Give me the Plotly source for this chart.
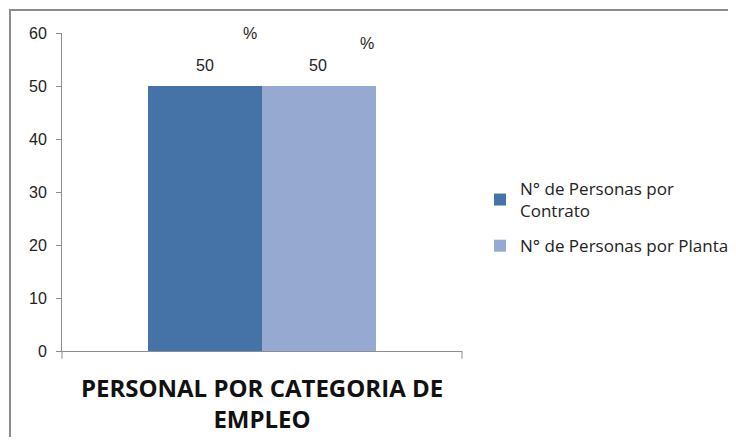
import plotly.graph_objects as go

categories = ["PERSONAL POR CATEGORIA DE<br>EMPLEO"]
series_names = ["N° de Personas por<br>Contrato", "N° de Personas por Planta"]
contrato = [50]
planta = [50]
colors = ["#4573A7", "#95A9D1"]

label_font = dict(size=16, color="#222", family="Liberation Sans")

fig = go.Figure(
    data=[
        go.Bar(name=series_names[0], x=categories, y=contrato, marker_color=colors[0],
               legendgroup="a"),
        go.Bar(name=series_names[1], x=categories, y=planta, marker_color=colors[1],
               legendgroup="b"),
    ]
)
fig.update_traces(marker_line_width=0)

# data labels ("50" with the stray "%" above, as in the original)
fig.add_annotation(x=categories[0], y=contrato[0], text=str(contrato[0]), showarrow=False,
                   xshift=-57, yshift=21, font=label_font)
fig.add_annotation(x=categories[0], y=planta[0], text=str(planta[0]), showarrow=False,
                   xshift=56, yshift=21, font=label_font)
fig.add_annotation(x=categories[0], y=contrato[0], text="%", showarrow=False,
                   xshift=-12, yshift=53, font=label_font)
fig.add_annotation(x=categories[0], y=planta[0], text="%", showarrow=False,
                   xshift=105, yshift=43, font=label_font)

# outer chart border
fig.add_shape(type="rect", xref="paper", yref="paper", x0=-0.13, x1=1.7, y0=-0.5, y1=1.072,
              line=dict(color="#8c8c8c", width=2), fillcolor="rgba(0,0,0,0)")
# category boundary ticks on the x axis
for xb in [0, 1]:
    fig.add_shape(type="line", xref="paper", yref="paper", x0=xb, x1=xb, y0=0, y1=-0.024,
                  line=dict(color="#8c8c8c", width=1))

fig.update_layout(
    barmode="group",
    bargap=0.43,
    bargroupgap=0,
    width=720,
    height=429,
    margin=dict(l=54, r=266, t=25, b=86, autoexpand=False),
    paper_bgcolor="white",
    plot_bgcolor="white",
    font=dict(family="Liberation Sans", size=16, color="#222"),
    legend=dict(x=1.045, y=0.42, yanchor="middle", xanchor="left",
                font=dict(size=17, family="Open Sans", color="#222"),
                tracegroupgap=10, itemwidth=30),
    yaxis=dict(range=[0, 60], dtick=10, showgrid=False, showline=True, linecolor="#8c8c8c",
               ticks="outside", ticklen=5, tickcolor="#8c8c8c", zeroline=False,
               ticklabelstandoff=6, automargin=False),
    xaxis=dict(showline=True, linecolor="#8c8c8c", showgrid=False, automargin=False,
               ticklabelstandoff=16,
               tickfont=dict(size=24, family="Open Sans", color="#111", weight="bold")),
)

fig.write_html("out.html")
